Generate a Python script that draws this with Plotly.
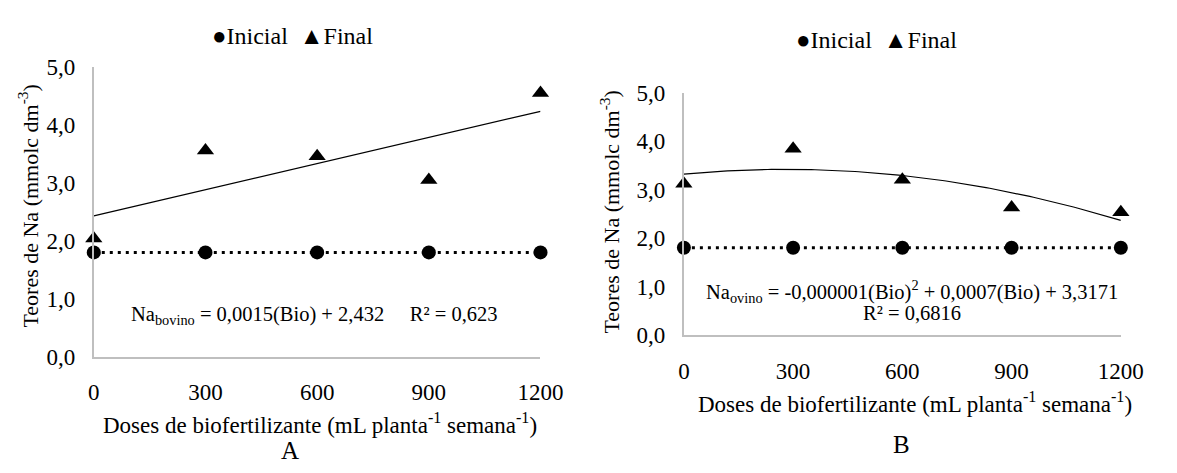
import numpy as np
import plotly.graph_objects as go

# Doses de biofertilizante (mL planta-1 semana-1)
doses = [0, 300, 600, 900, 1200]

# Teores de Na (mmolc dm-3) - biofertilizante bovino (A)
inicial_bovino = [1.8, 1.8, 1.8, 1.8, 1.8]
final_bovino = [2.04, 3.56, 3.46, 3.05, 4.55]

# Teores de Na (mmolc dm-3) - biofertilizante ovino (B)
inicial_ovino = [1.8, 1.8, 1.8, 1.8, 1.8]
final_ovino = [3.12, 3.84, 3.20, 2.63, 2.53]

y_tickvals = [0, 1, 2, 3, 4, 5]
y_ticktext = ["0,0", "1,0", "2,0", "3,0", "4,0", "5,0"]
x_tickvals = [0, 300, 600, 900, 1200]
x_ticktext = ["0", "300", "600", "900", "1200"]

W, H = 1177, 473
FONT = "Liberation Serif"
AXIS_GREY = "#BFBFBF"


def px_x(v):
    return v / W


def px_y(v):
    return 1 - v / H


def trend(x, y, deg):
    coef = np.polyfit(x, y, deg)
    xs = np.linspace(min(x), max(x), 121)
    return xs, np.polyval(coef, xs)


fig = go.Figure()

panels = [
    ("x", "y", inicial_bovino, final_bovino, 1),
    ("x2", "y2", inicial_ovino, final_ovino, 2),
]

for xa, ya, ini, fin, deg in panels:
    # dotted trend of the initial values
    xs, ys = trend(doses, ini, 1)
    fig.add_trace(go.Scatter(x=xs, y=ys, mode="lines", xaxis=xa, yaxis=ya,
                             line=dict(color="black", width=3, dash="3px,5px"),
                             showlegend=False, hoverinfo="skip"))
    # fitted trend of the final values
    xs, ys = trend(doses, fin, deg)
    fig.add_trace(go.Scatter(x=xs, y=ys, mode="lines", xaxis=xa, yaxis=ya,
                             line=dict(color="black", width=1.2),
                             showlegend=False, hoverinfo="skip"))
    fig.add_trace(go.Scatter(x=doses, y=ini, mode="markers", name="Inicial",
                             xaxis=xa, yaxis=ya, cliponaxis=False,
                             marker=dict(symbol="circle", size=14, color="black"),
                             showlegend=False))
    fig.add_trace(go.Scatter(x=doses, y=fin, mode="markers", name="Final",
                             xaxis=xa, yaxis=ya, cliponaxis=False,
                             marker=dict(symbol="triangle-up", size=15, color="black"),
                             showlegend=False))

xaxis_common = dict(range=[0, 1200], tickvals=x_tickvals, ticktext=x_ticktext,
                    showline=True, linecolor=AXIS_GREY, linewidth=2,
                    showgrid=False, zeroline=False, ticks="",
                    ticklabelstandoff=14,
                    tickfont=dict(family=FONT, size=23, color="black"))
yaxis_common = dict(range=[0, 5], tickvals=y_tickvals, ticktext=y_ticktext,
                    showline=True, linecolor=AXIS_GREY, linewidth=2,
                    showgrid=False, zeroline=False, ticks="",
                    ticklabelstandoff=12,
                    tickfont=dict(family=FONT, size=23, color="black"))

fig.update_layout(
    width=W, height=H,
    margin=dict(l=0, r=0, t=0, b=0),
    paper_bgcolor="white", plot_bgcolor="white",
    showlegend=False,
    xaxis=dict(domain=[px_x(90), px_x(548)], anchor="y", **xaxis_common),
    yaxis=dict(domain=[px_y(364), px_y(58)], anchor="x", **yaxis_common),
    xaxis2=dict(domain=[px_x(695), px_x(1143)], anchor="y2", **xaxis_common),
    yaxis2=dict(domain=[px_y(341), px_y(85)], anchor="x2", **yaxis_common),
)

ytitle = "Teores de Na (mmolc dm<sup>-3</sup>)"
xtitle = "Doses de biofertilizante (mL planta<sup>-1</sup> semana<sup>-1</sup>)"
legend_text = "\u25CFInicial  \u25B2Final"

texts = [
    # panel A
    (294, 25, legend_text, 24, 0),
    (23, 205, ytitle, 22, -90),
    (322, 434, xtitle, 23, 0),
    (291, 463, "A", 25, 0),
    (316, 320, "Na<sub>bovino</sub> = 0,0015(Bio) + 2,432     R\u00b2 = 0,623", 20.5, 0),
    # panel B
    (893, 30, legend_text, 24, 0),
    (619, 211, ytitle, 22, -90),
    (932, 412, xtitle, 23, 0),
    (918, 457, "B", 25, 0),
    (929, 295, "Na<sub>ovino</sub> = -0,000001(Bio)<sup>2</sup> + 0,0007(Bio) + 3,3171", 20.5, 0),
    (929, 318, "R\u00b2 = 0,6816", 20.5, 0),
]

for x, y, t, s, ang in texts:
    fig.add_annotation(x=px_x(x), y=px_y(y), xref="paper", yref="paper",
                       text=t, showarrow=False, textangle=ang,
                       xanchor="center", yanchor="middle",
                       font=dict(family=FONT, size=s, color="black"))

fig.write_html("out.html")
